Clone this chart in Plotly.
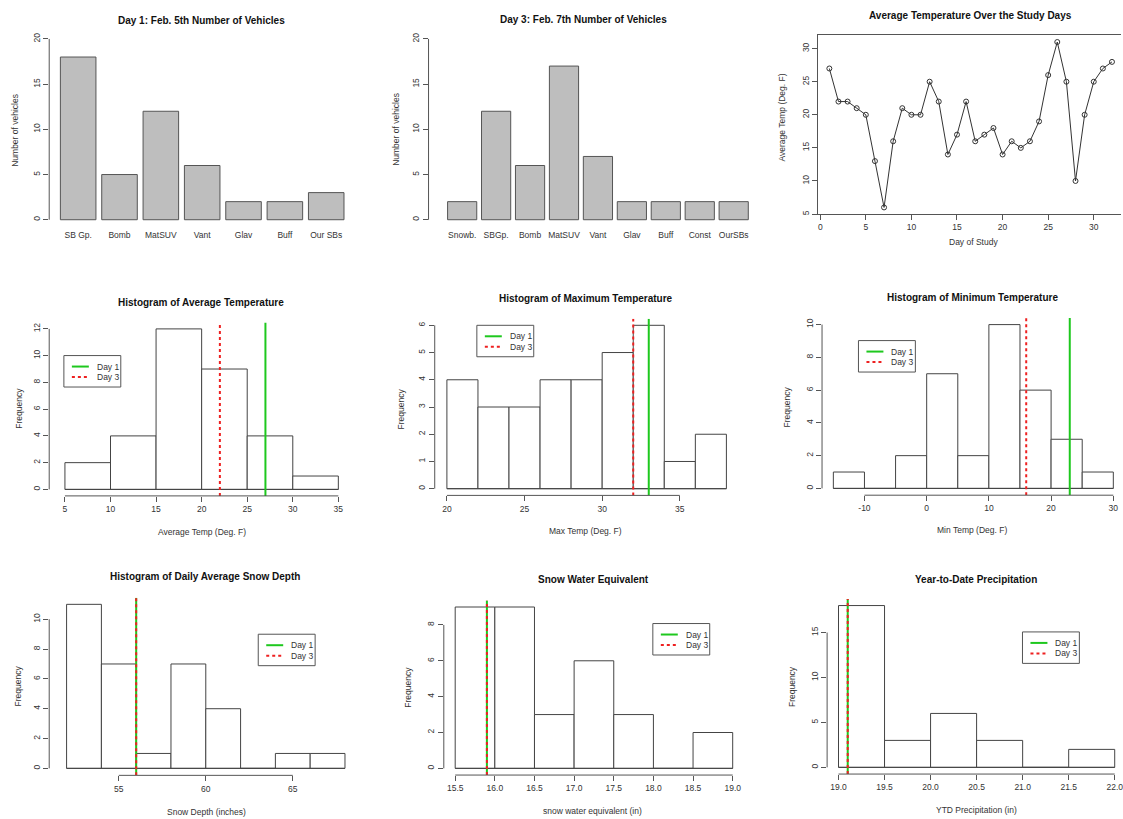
import plotly.graph_objects as go

W, H = 1123, 819
FONT = "Liberation Sans, Arial, sans-serif"
AXC = "#555555"
TXT = "#333333"
TTL = "#111111"
GREEN = "#1ec81e"
RED = "#ee2020"

# ------------------------------------------------------------------ data
day1_labels = ["SB Gp.", "Bomb", "MatSUV", "Vant", "Glav", "Buff", "Our SBs"]
day1_counts = [18, 5, 12, 6, 2, 2, 3]
day3_labels = ["Snowb.", "SBGp.", "Bomb", "MatSUV", "Vant", "Glav", "Buff", "Const", "OurSBs"]
day3_counts = [2, 12, 6, 17, 7, 2, 2, 2, 2]
bar_yticks = [0, 5, 10, 15, 20]

study_day = [1, 2, 3, 4, 5, 6, 7, 8, 9, 10, 11, 12, 13, 14, 15, 16,
             17, 18, 19, 20, 21, 22, 23, 24, 25, 26, 27, 28, 29, 30, 31, 32]
daily_avg_temp = [27, 22, 22, 21, 20, 13, 6, 16, 21, 20, 20, 25, 22, 14, 17, 22,
                  16, 17, 18, 14, 16, 15, 16, 19, 26, 31, 25, 10, 20, 25, 27, 28]
line_xticks = [0, 5, 10, 15, 20, 25, 30]
line_yticks = [5, 10, 15, 20, 25, 30]

avg_breaks = [5, 10, 15, 20, 25, 30, 35]
avg_freq = [2, 4, 12, 9, 4, 1]
avg_xticks = [5, 10, 15, 20, 25, 30, 35]
avg_yticks = [0, 2, 4, 6, 8, 10, 12]

max_breaks = [20, 22, 24, 26, 28, 30, 32, 34, 36, 38]
max_freq = [4, 3, 3, 4, 4, 5, 6, 1, 2]
max_xticks = [20, 25, 30, 35]
max_yticks = [0, 1, 2, 3, 4, 5, 6]

min_breaks = [-15, -10, -5, 0, 5, 10, 15, 20, 25, 30]
min_freq = [1, 0, 2, 7, 2, 10, 6, 3, 1]
min_xticks = [-10, 0, 10, 20, 30]
min_yticks = [0, 2, 4, 6, 8, 10]

depth_breaks = [52, 54, 56, 58, 60, 62, 64, 66, 68]
depth_freq = [11, 7, 1, 7, 4, 0, 1, 1]
depth_xticks = [55, 60, 65]
depth_yticks = [0, 2, 4, 6, 8, 10]

swe_breaks = [15.5, 16.0, 16.5, 17.0, 17.5, 18.0, 18.5, 19.0]
swe_freq = [9, 9, 3, 6, 3, 0, 2]
swe_xticks = [15.5, 16.0, 16.5, 17.0, 17.5, 18.0, 18.5, 19.0]
swe_yticks = [0, 2, 4, 6, 8]

ytd_breaks = [19.0, 19.5, 20.0, 20.5, 21.0, 21.5, 22.0]
ytd_freq = [18, 3, 6, 3, 0, 2]
ytd_xticks = [19.0, 19.5, 20.0, 20.5, 21.0, 21.5, 22.0]
ytd_yticks = [0, 5, 10, 15]

# reference values marked on histograms (avg, max, min, depth, swe, ytd)
day1_values = [27, 33, 23, 56, 15.9, 19.1]
day3_values = [22, 32, 16, 56, 15.9, 19.1]

hist_titles = ["Histogram of Average Temperature", "Histogram of Maximum Temperature",
               "Histogram of Minimum Temperature", "Histogram of Daily Average Snow Depth",
               "Snow Water Equivalent", "Year-to-Date Precipitation"]
hist_xlabels = ["Average Temp (Deg. F)", "Max Temp (Deg. F)", "Min Temp (Deg. F)",
                "Snow Depth (inches)", "snow water equivalent (in)", "YTD Precipitation (in)"]

# ------------------------------------------------------------------ layout geometry (pixels)
def fx(p):
    return p / W


def fy(p):
    return 1 - p / H


def rng(v1, p1, v2, p2, a, b):
    k = (p2 - p1) / (v2 - v1)
    return [v1 + (a - p1) / k, v1 + (b - p1) / k]


# dom = (left, right, top, bottom); xcal/ycal = calibration (value, px) pairs
geo = {
    1: dict(dom=(49.3, 355.7, 31.8, 227.2), xcal=(0, 78.3, 6, 326.8), ycal=(0, 220, 20, 39),
            title=(202, 20.7), ylab=(15, 130), xlab=None, leg=None),
    2: dict(dom=(429.3, 761.0, 31.8, 227.2), xcal=(0, 463, 8, 735), ycal=(0, 220, 20, 39),
            title=(585, 19.3), ylab=(396.7, 129), xlab=None, leg=None),
    3: dict(dom=(819.5, 1123, 35.5, 214.3), xcal=(0, 821.7, 30, 1095.7), ycal=(5, 214.3, 30, 48.7),
            title=(972.7, 15.5), ylab=(783, 118), xlab=(975, 242.3), leg=None),
    4: dict(dom=(49.3, 350.0, 322.9, 496.5), xcal=(10, 110.7, 30, 293.3), ycal=(0, 490, 12, 329.3),
            title=(201.7, 303.3), ylab=(18.3, 409), xlab=(202, 532.3), leg=(64, 356)),
    5: dict(dom=(435.5, 739.0, 319.2, 496.0), xcal=(20, 447.7, 38, 727.7), ycal=(0, 489.3, 6, 325.7),
            title=(586.8, 299), ylab=(401.7, 409), xlab=(586.7, 532), leg=(477.7, 325.7)),
    6: dict(dom=(823.5, 1123, 318.4, 495.8), xcal=(-10, 866, 30, 1115.3), ycal=(0, 489, 10, 325),
            title=(974.5, 298.3), ylab=(788.3, 407), xlab=(974, 530.7), leg=(860, 341)),
    7: dict(dom=(49.3, 358.0, 598.5, 776.3), xcal=(55, 119, 65, 293.3), ycal=(0, 769.3, 10, 620),
            title=(205.8, 577.7), ylab=(18.3, 687), xlab=(206.7, 813), leg=(258.7, 635)),
    8: dict(dom=(444.6, 745.1, 601.2, 776.0), xcal=(15.5, 456, 19.0, 734), ycal=(0, 769.3, 8, 625.7),
            title=(594.5, 580), ylab=(409.3, 688), xlab=(594, 812), leg=(654, 624.3)),
    9: dict(dom=(828.6, 1123, 599.8, 775.0), xcal=(19.0, 840, 22.0, 1116.7), ycal=(0, 768.3, 15, 633.3),
            title=(977.7, 580), ylab=(793.3, 687), xlab=(978.3, 811), leg=(1024.3, 632.7)),
}

fig = go.Figure()
layout = dict(width=W, height=H, autosize=False, margin=dict(l=0, r=0, t=0, b=0),
              paper_bgcolor="white", plot_bgcolor="white", showlegend=False,
              font=dict(family=FONT, size=9, color=TXT))
shapes = []
annotations = []


def axname(i, a):
    return a if i == 1 else f"{a}{i}"


def lay_name(i, a):
    return f"{a}axis" if i == 1 else f"{a}axis{i}"


def fmt(v, dec):
    return f"{v:.{dec}f}"


def setup_axes(i, xticks=None, yticks=None, xdec=0, ydec=0, category=False, box=False):
    g = geo[i]
    L, R, T, B = g["dom"]
    xr = rng(g["xcal"][0], g["xcal"][1], g["xcal"][2], g["xcal"][3], L, R)
    yr = rng(g["ycal"][0], g["ycal"][1], g["ycal"][2], g["ycal"][3], B, T)
    xa = dict(domain=[fx(L), fx(R)], range=xr, anchor=axname(i, "y"), showgrid=False,
              zeroline=False, showline=box, linecolor=AXC, linewidth=1, mirror=box,
              tickfont=dict(size=8.5, color=TXT, family=FONT), fixedrange=True,
              ticklabeloverflow="allow")
    if category:
        xa.update(type="category", ticks="", ticklabelstandoff=2)
    else:
        xa.update(ticks="outside", ticklen=5, tickwidth=1, tickcolor=AXC,
                  tickvals=xticks, ticktext=[fmt(v, xdec) for v in xticks])
    ya = dict(domain=[fy(B), fy(T)], range=yr, anchor=axname(i, "x"), showgrid=False,
              zeroline=False, showline=box, linecolor=AXC, linewidth=1, mirror=False,
              ticks="outside", ticklen=5, tickwidth=1, tickcolor=AXC, tickangle=-90,
              tickvals=yticks, ticktext=[fmt(v, ydec) for v in yticks],
              tickfont=dict(size=8.5, color=TXT, family=FONT), fixedrange=True)
    layout[lay_name(i, "x")] = xa
    layout[lay_name(i, "y")] = ya
    xref = axname(i, "x")
    yref = axname(i, "y")
    if not box:
        # R-style axis lines spanning only the tick range
        shapes.append(dict(type="line", xref=f"{xref} domain", yref=yref, x0=0, x1=0,
                           y0=yticks[0], y1=yticks[-1], line=dict(color=AXC, width=1)))
        if not category:
            shapes.append(dict(type="line", xref=xref, yref=f"{yref} domain", y0=0, y1=0,
                               x0=xticks[0], x1=xticks[-1], line=dict(color=AXC, width=1)))
    return xr, yr


def text(x, y, s, size=8.5, color=TXT, angle=0, xanchor="center"):
    annotations.append(dict(x=fx(x), y=fy(y), xref="paper", yref="paper", text=s,
                            showarrow=False, xanchor=xanchor, yanchor="middle",
                            textangle=angle, font=dict(family=FONT, size=size, color=color)))


def labels(i, title, xlab, ylab):
    g = geo[i]
    text(g["title"][0], g["title"][1], f"<b>{title}</b>", size=10, color=TTL)
    if xlab:
        text(g["xlab"][0], g["xlab"][1], xlab)
    text(g["ylab"][0], g["ylab"][1], ylab, angle=-90)


def legend_box(i):
    bx, by = geo[i]["leg"]
    bw, bh = 57, 31.5
    shapes.append(dict(type="rect", xref="paper", yref="paper", x0=fx(bx), x1=fx(bx + bw),
                       y0=fy(by + bh), y1=fy(by), line=dict(color=AXC, width=1), fillcolor="white"))
    for k, (lab, col, dash) in enumerate([("Day 1", GREEN, "solid"), ("Day 3", RED, "dot")]):
        yy = by + 11 + k * 10.5
        shapes.append(dict(type="line", xref="paper", yref="paper", x0=fx(bx + 8), x1=fx(bx + 25),
                           y0=fy(yy), y1=fy(yy), line=dict(color=col, width=2, dash=dash)))
        text(bx + 31, yy, lab, xanchor="left")


# ---- Panel 1 & 2: bar charts of vehicles
for i, (labs, vals, ttl) in enumerate([
        (day1_labels, day1_counts, "Day 1: Feb. 5th Number of Vehicles"),
        (day3_labels, day3_counts, "Day 3: Feb. 7th Number of Vehicles")], start=1):
    setup_axes(i, yticks=bar_yticks, category=True)
    fig.add_trace(go.Bar(x=labs, y=vals, width=0.86, xaxis=axname(i, "x"), yaxis=axname(i, "y"),
                         marker=dict(color="#bebebe", line=dict(color="#555555", width=1))))
    labels(i, ttl, None, "Number of vehicles")

# ---- Panel 3: line plot
setup_axes(3, xticks=line_xticks, yticks=line_yticks, box=True)
fig.add_trace(go.Scatter(x=study_day, y=daily_avg_temp, mode="lines+markers", xaxis="x3", yaxis="y3",
                         line=dict(color="#333333", width=1),
                         marker=dict(symbol="circle-open", size=5, color="#333333",
                                     line=dict(width=1, color="#333333"))))
labels(3, "Average Temperature Over the Study Days", "Day of Study", "Average Temp (Deg. F)")

# ---- Panels 4-9: histograms
hists = [
    (avg_breaks, avg_freq, avg_xticks, avg_yticks, 0),
    (max_breaks, max_freq, max_xticks, max_yticks, 0),
    (min_breaks, min_freq, min_xticks, min_yticks, 0),
    (depth_breaks, depth_freq, depth_xticks, depth_yticks, 0),
    (swe_breaks, swe_freq, swe_xticks, swe_yticks, 1),
    (ytd_breaks, ytd_freq, ytd_xticks, ytd_yticks, 1),
]
for j, (br, fr, xt, yt, dec) in enumerate(hists):
    i = j + 4
    xr, yr = setup_axes(i, xticks=xt, yticks=yt, xdec=dec)
    xa, ya = axname(i, "x"), axname(i, "y")
    centers = [(br[k] + br[k + 1]) / 2 for k in range(len(fr))]
    widths = [br[k + 1] - br[k] for k in range(len(fr))]
    fig.add_trace(go.Bar(x=centers, y=fr, width=widths, xaxis=xa, yaxis=ya,
                         marker=dict(color="white", line=dict(color="#444444", width=1))))
    fig.add_trace(go.Scatter(x=[br[0], br[-1]], y=[0, 0], mode="lines", xaxis=xa, yaxis=ya,
                             line=dict(color="#444444", width=1), hoverinfo="skip"))
    fig.add_trace(go.Scatter(x=[day1_values[j], day1_values[j]], y=[yr[0], yr[1]], mode="lines",
                             xaxis=xa, yaxis=ya, name="Day 1", line=dict(color=GREEN, width=2)))
    fig.add_trace(go.Scatter(x=[day3_values[j], day3_values[j]], y=[yr[0], yr[1]], mode="lines",
                             xaxis=xa, yaxis=ya, name="Day 3",
                             line=dict(color=RED, width=2, dash="dot")))
    labels(i, hist_titles[j], hist_xlabels[j], "Frequency")
    legend_box(i)

layout["shapes"] = shapes
layout["annotations"] = annotations
fig.update_layout(**layout)

fig.write_html("out.html", include_plotlyjs=True, config={"displayModeBar": False},
               post_script="document.body.style.margin='0';document.body.style.overflow='hidden';")
